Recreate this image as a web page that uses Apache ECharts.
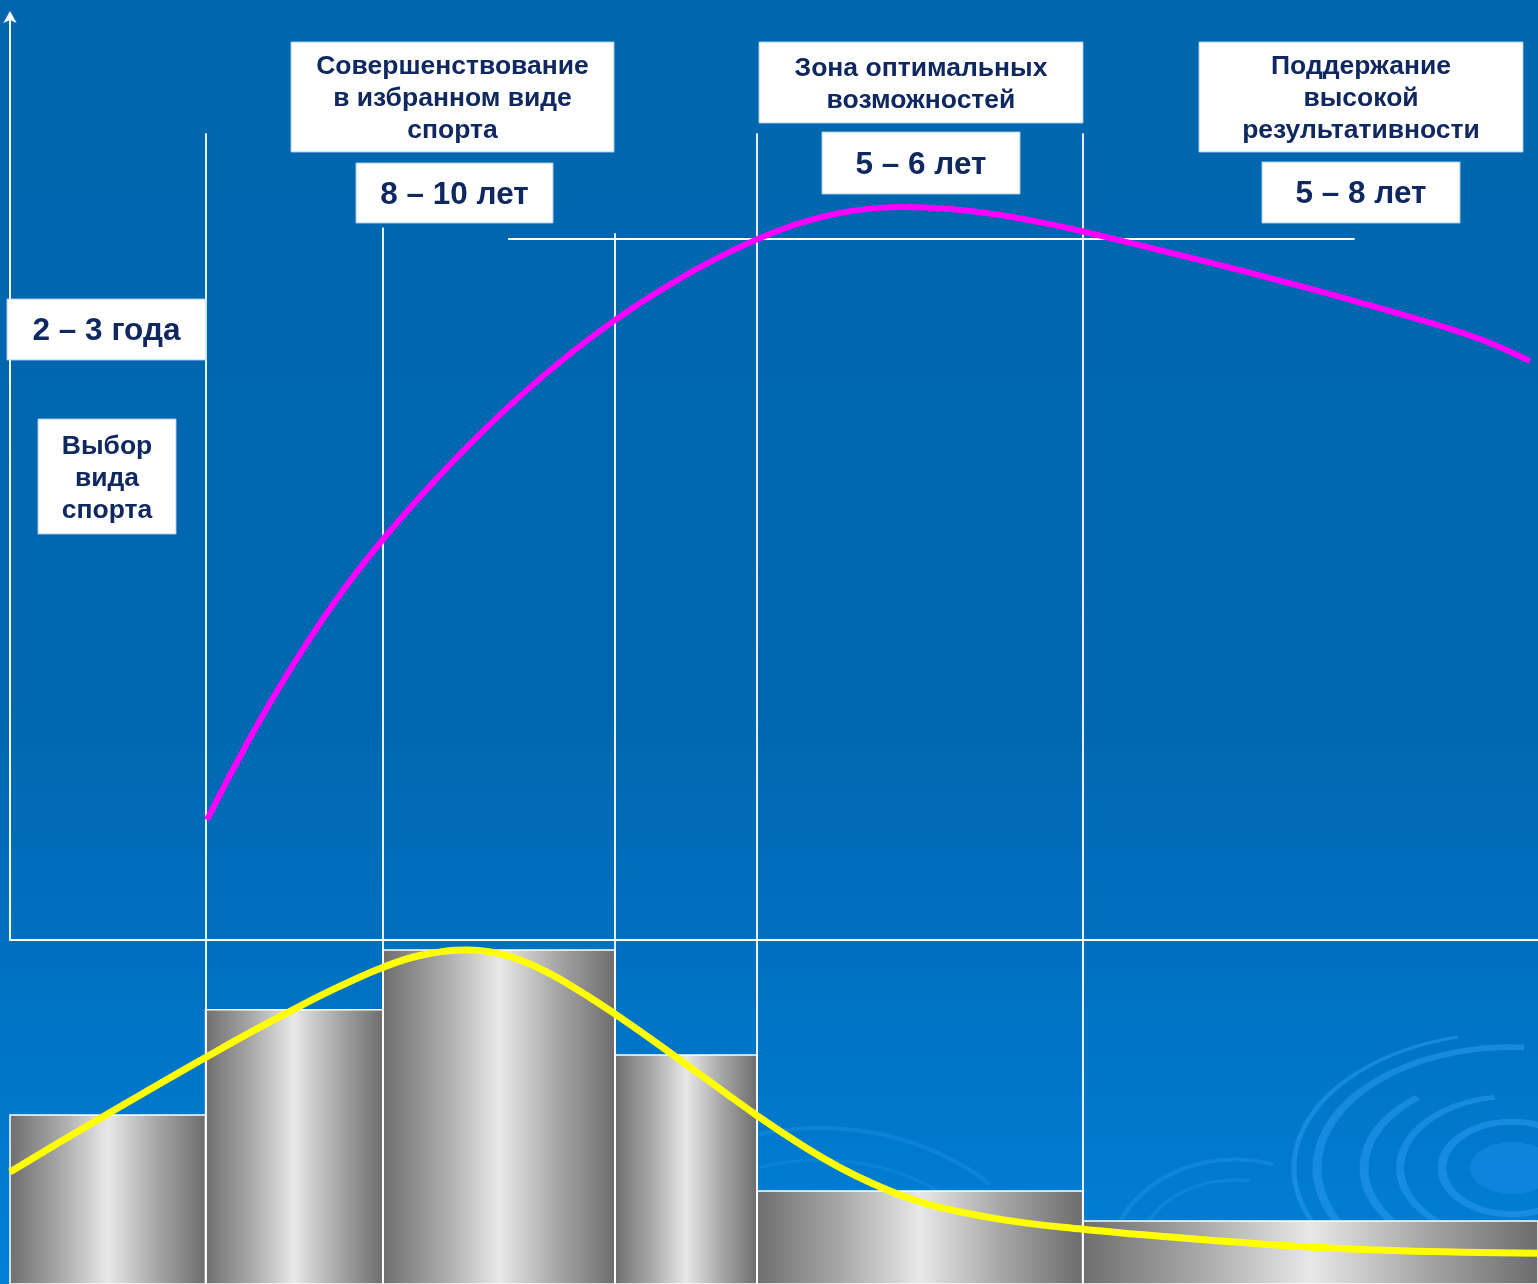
<!DOCTYPE html>
<html lang="ru">
<head>
<meta charset="utf-8">
<title>Этапы многолетней спортивной подготовки</title>
<script src="https://cdn.jsdelivr.net/npm/echarts@6/dist/echarts.min.js"></script>
<style>
  html, body { margin: 0; padding: 0; background: #0066ae; }
  #chart { width: 1538px; height: 1284px; }
</style>
</head>
<body>
<div id="chart"></div>
<script>
// Stage boundaries along the time axis (0..100 of the whole sporting career)
const stageEdges = [0, 12.8, 24.4, 39.6, 48.9, 70.2, 100];

// Training volume per stage (lower panel, 0..100)
const stageVolume = [49.1, 79.7, 97.1, 66.6, 27.0, 18.3];

// Sport result curve (upper panel, 0..100)
const resultX = [12.89, 15.05, 17.34, 19.63, 21.92, 24.41, 27.16, 30.11, 33.38, 36.65, 39.59, 42.54, 45.81, 48.89, 51.70, 54.97, 58.44, 61.52, 64.79, 67.41, 70.22, 74.61, 78.73, 83.12, 87.50, 90.97, 94.05, 96.86, 99.48];
const resultY = [12.99, 19.86, 26.56, 32.64, 38.12, 43.37, 48.57, 53.70, 58.86, 63.45, 67.09, 70.29, 73.39, 75.84, 77.59, 78.86, 79.32, 79.12, 78.47, 77.69, 76.68, 74.91, 73.23, 71.35, 69.38, 67.75, 66.24, 64.61, 62.65];

// Load intensity curve (lower panel, 0..100)
const loadX = [0, 3.27, 6.55, 9.82, 12.76, 16.03, 18.98, 21.60, 24.22, 26.83, 29.91, 32.72, 35.14, 37.30, 39.46, 42.21, 45.16, 48.89, 52.16, 54.32, 56.48, 58.57, 60.86, 65.25, 70.22, 73.95, 77.88, 84.42, 90.97, 100];
const loadY = [32.56, 41.28, 49.83, 58.26, 65.76, 73.87, 80.81, 86.57, 91.74, 95.49, 97.06, 95.20, 90.67, 85.09, 78.87, 70.38, 60.90, 48.98, 39.39, 33.84, 29.13, 25.38, 22.30, 18.49, 15.90, 14.39, 12.94, 10.90, 9.65, 8.95];

// Stage dividers: position and how high they rise in the upper panel
const dividerX = [12.8, 24.4, 39.6, 48.9, 70.2];
const dividerTop = [87.3, 77.1, 76.5, 87.3, 87.3];

// High-result level line in the upper panel
const levelValue = 75.9;
const levelFrom = 32.6;
const levelTo = 88.0;

// Stage captions
const stageTitles = ['Выбор\nвида\nспорта', 'Совершенствование\nв избранном виде\nспорта', 'Зона оптимальных\nвозможностей', 'Поддержание\nвысокой\nрезультативности'];
const stageDurations = ['2 – 3 года', '8 – 10 лет', '5 – 6 лет', '5 – 8 лет'];

const chart = echarts.init(document.getElementById('chart'), null, { renderer: 'canvas' });

const W = 1538, H = 1284;
const NAVY = '#0f2860';
const FONT = '"Liberation Sans", Arial, sans-serif';

// Caption boxes: [left, top, right, bottom, text, font size, line height]
const boxes = [
  [291, 42, 614, 152, stageTitles[1], 26.5, 32],
  [356, 163, 553, 223, stageDurations[1], 31.5, 36],
  [759, 42, 1083, 123, stageTitles[2], 26.5, 32],
  [822, 132, 1020, 194, stageDurations[2], 31.5, 36],
  [1199, 42, 1523, 152, stageTitles[3], 26.5, 32],
  [1262, 162, 1460, 223, stageDurations[3], 31.5, 36],
  [7, 299, 206, 360, stageDurations[0], 31.5, 36],
  [38, 419, 176, 534, stageTitles[0], 26.5, 32]
];

const boxGraphics = [];
boxes.forEach(function (b) {
  boxGraphics.push({
    type: 'rect', z: 100,
    shape: { x: b[0], y: b[1], width: b[2] - b[0], height: b[3] - b[1] },
    style: { fill: '#ffffff', stroke: 'rgba(170,205,240,0.9)', lineWidth: 1 }
  });
  boxGraphics.push({
    type: 'text', z: 101,
    x: (b[0] + b[2]) / 2, y: (b[1] + b[3]) / 2 + 2,
    style: {
      text: b[4], fill: NAVY,
      font: 'bold ' + b[5] + 'px ' + FONT,
      lineHeight: b[6],
      align: 'center', verticalAlign: 'middle',
      textAlign: 'center', textVerticalAlign: 'middle'
    }
  });
});

// Decorative ripples in the lower right corner
const RIPPLE = 'rgba(40,155,240,0.55)';
function ring(cx, cy, r, sy, a0, a1, lw, color) {
  return {
    type: 'arc', z: -5, x: cx, y: cy, scaleX: 1, scaleY: sy,
    shape: { cx: 0, cy: 0, r: r, startAngle: a0 * Math.PI, endAngle: a1 * Math.PI, clockwise: true },
    style: { stroke: color || RIPPLE, lineWidth: lw, fill: null, strokeNoScale: true }
  };
}
const ripples = [
  { type: 'ellipse', z: -5, shape: { cx: 1512, cy: 1168, rx: 42, ry: 26 }, style: { fill: 'rgba(30,145,235,0.45)' } },
  ring(1512, 1168, 70, 0.66, 0, 2, 9),
  ring(1512, 1168, 112, 0.64, 0.45, 1.45, 8),
  ring(1512, 1168, 148, 0.62, 0.5, 1.28, 9),
  ring(1512, 1168, 195, 0.62, 0.55, 1.52, 9),
  ring(1512, 1168, 218, 0.62, 0.75, 1.42, 5),
  ring(1512, 1168, 128, 0.64, 1.6, 1.9, 6),
  ring(1235, 1262, 125, 0.82, 1.0, 1.6, 5, 'rgba(40,155,240,0.35)'),
  ring(1235, 1262, 100, 0.82, 1.05, 1.55, 4, 'rgba(40,155,240,0.3)'),
  ring(820, 1320, 240, 0.8, 1.25, 1.75, 5, 'rgba(40,155,240,0.3)'),
  ring(820, 1320, 200, 0.8, 1.3, 1.7, 4, 'rgba(40,155,240,0.25)')
];

const background = {
  type: 'rect', z: -10,
  shape: { x: 0, y: 0, width: W, height: H },
  style: {
    fill: {
      type: 'linear', x: 0, y: 0, x2: 0, y2: 1,
      colorStops: [
        { offset: 0, color: '#0066ae' },
        { offset: 0.55, color: '#0067b0' },
        { offset: 0.75, color: '#0071c1' },
        { offset: 1, color: '#0080d7' }
      ]
    }
  }
};

const metal = {
  type: 'linear', x: 0, y: 0, x2: 1, y2: 0,
  colorStops: [
    { offset: 0, color: '#6e6e6e' },
    { offset: 0.25, color: '#a6a6a6' },
    { offset: 0.5, color: '#e8e8e8' },
    { offset: 0.75, color: '#a6a6a6' },
    { offset: 1, color: '#6c6c6c' }
  ]
};

const barData = stageVolume.map(function (v, i) { return [stageEdges[i], stageEdges[i + 1], v]; });
const resultData = resultX.map(function (x, i) { return [x, resultY[i]]; });
const loadData = loadX.map(function (x, i) { return [x, loadY[i]]; });

const upperDividers = dividerX.map(function (x, i) {
  return [{ coord: [x, dividerTop[i]] }, { coord: [x, 0] }];
});
upperDividers.push([{ coord: [levelFrom, levelValue] }, { coord: [levelTo, levelValue] }]);
const lowerDividers = dividerX.map(function (x) {
  return [{ coord: [x, 100] }, { coord: [x, 0] }];
});

const hidden = { show: false };

chart.setOption({
  animation: false,
  graphic: { elements: [background].concat(ripples, boxGraphics) },
  grid: [
    { left: 10, right: 0, top: 16, bottom: H - 940, outerBoundsMode: 'none', containLabel: false },
    { left: 10, right: 0, top: 940, bottom: 0, outerBoundsMode: 'none', containLabel: false }
  ],
  xAxis: [
    {
      type: 'value', gridIndex: 0, min: 0, max: 100,
      axisLine: { show: true, lineStyle: { color: '#ffffff', width: 2 } },
      axisTick: hidden, axisLabel: hidden, splitLine: hidden
    },
    {
      type: 'value', gridIndex: 1, min: 0, max: 100,
      axisLine: hidden, axisTick: hidden, axisLabel: hidden, splitLine: hidden
    }
  ],
  yAxis: [
    {
      type: 'value', gridIndex: 0, min: 0, max: 100,
      axisLine: { show: true, symbol: ['none', 'arrow'], symbolSize: [10, 12], symbolOffset: [0, 5], lineStyle: { color: '#ffffff', width: 2 } },
      axisTick: hidden, axisLabel: hidden, splitLine: hidden
    },
    {
      type: 'value', gridIndex: 1, min: 0, max: 100,
      axisLine: hidden, axisTick: hidden, axisLabel: hidden, splitLine: hidden
    }
  ],
  series: [
    {
      name: 'Объём подготовки',
      type: 'custom', xAxisIndex: 1, yAxisIndex: 1, z: 2,
      data: barData,
      encode: { x: [0, 1], y: 2 },
      renderItem: function (params, api) {
        const p0 = api.coord([api.value(0), api.value(2)]);
        const p1 = api.coord([api.value(1), 0]);
        return {
          type: 'rect',
          shape: { x: p0[0], y: p0[1], width: p1[0] - p0[0], height: p1[1] - p0[1] },
          style: { fill: metal, stroke: '#ffffff', lineWidth: 1.5 }
        };
      }
    },
    {
      name: 'Интенсивность',
      type: 'line', xAxisIndex: 1, yAxisIndex: 1, z: 4,
      data: loadData, smooth: 0.4, symbol: 'none',
      lineStyle: { color: '#ffff00', width: 7 },
      markLine: {
        silent: true, symbol: ['none', 'none'], z: 3,
        label: hidden,
        lineStyle: { color: '#ffffff', width: 1.8, type: 'solid' },
        data: lowerDividers
      }
    },
    {
      name: 'Спортивный результат',
      type: 'line', xAxisIndex: 0, yAxisIndex: 0, z: 4,
      data: resultData, smooth: 0.4, symbol: 'none',
      lineStyle: { color: '#ff00ff', width: 6, cap: 'butt' },
      markLine: {
        silent: true, symbol: ['none', 'none'], z: 3,
        label: hidden,
        lineStyle: { color: '#ffffff', width: 1.8, type: 'solid' },
        data: upperDividers
      }
    }
  ]
});
</script>
</body>
</html>
